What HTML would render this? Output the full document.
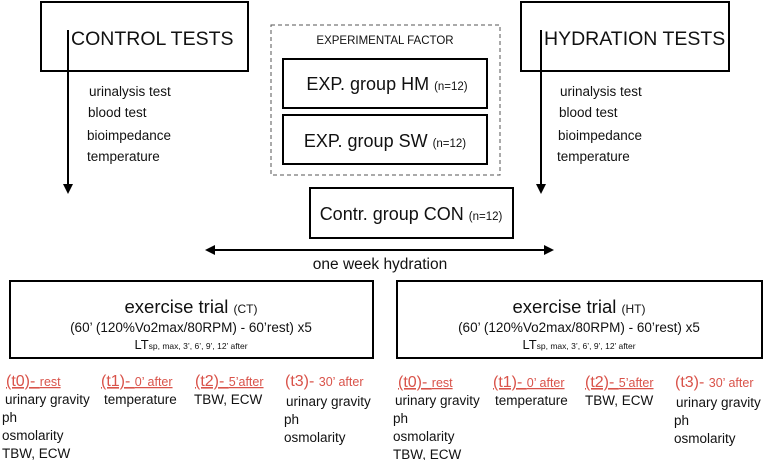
<!DOCTYPE html>
<html><head><meta charset="utf-8"><style>
body{margin:0;background:#fff;}
svg{display:block;font-family:"Liberation Sans",Arial,sans-serif;}
</style></head><body>
<svg width="766" height="460" viewBox="0 0 766 460" xmlns="http://www.w3.org/2000/svg">
<defs><marker id="ah" markerWidth="10" markerHeight="10" refX="8" refY="5" orient="auto" markerUnits="userSpaceOnUse"><path d="M0,0 L10,5 L0,10 z" fill="#000"/></marker></defs>

<g>
<rect x="41" y="2" width="207" height="69" fill="none" stroke="#000" stroke-width="2"/>
<text x="71" y="45" font-size="19.5" fill="#111">CONTROL TESTS</text>
</g>
<line x1="68" y1="30" x2="68" y2="192" stroke="#000" stroke-width="2" marker-end="url(#ah)"/>
<g font-size="13.5" fill="#111">
<text x="89" y="96">urinalysis test</text><text x="88" y="117">blood test</text><text x="87" y="140">bioimpedance</text><text x="87" y="161">temperature</text>
</g>

<g>
<rect x="521" y="2" width="208" height="69" fill="none" stroke="#000" stroke-width="2"/>
<text x="544" y="45" font-size="19.5" fill="#111">HYDRATION TESTS</text>
</g>
<line x1="541" y1="30" x2="541" y2="192" stroke="#000" stroke-width="2" marker-end="url(#ah)"/>
<g font-size="13.5" fill="#111">
<text x="560" y="96">urinalysis test</text><text x="559" y="117">blood test</text><text x="558" y="140">bioimpedance</text><text x="557" y="161">temperature</text>
</g>

<g>
<rect x="271" y="25" width="229" height="150" fill="none" stroke="#555" stroke-width="1" stroke-dasharray="4,3"/>
<text x="385" y="44" font-size="11.5" text-anchor="middle" fill="#111">EXPERIMENTAL FACTOR</text>
</g>
<g>
<rect x="283" y="59" width="204" height="49" fill="none" stroke="#000" stroke-width="2"/>
<text x="387" y="90" text-anchor="middle" fill="#111"><tspan font-size="18">EXP. group HM </tspan><tspan font-size="11.5">(n=12)</tspan></text>
</g>
<g>
<rect x="283" y="115" width="204" height="49" fill="none" stroke="#000" stroke-width="2"/>
<text x="385" y="147" text-anchor="middle" fill="#111"><tspan font-size="18">EXP. group SW </tspan><tspan font-size="11.5">(n=12)</tspan></text>
</g>
<g>
<rect x="310" y="188" width="203" height="50" fill="none" stroke="#000" stroke-width="2"/>
<text x="411" y="220" text-anchor="middle" fill="#111"><tspan font-size="18">Contr. group CON </tspan><tspan font-size="11.5">(n=12)</tspan></text>
</g>

<line x1="210" y1="250" x2="552" y2="250" stroke="#000" stroke-width="2" marker-end="url(#ah)"/>
<path d="M205,250 L215,245 L215,255 z" fill="#000"/>
<text x="380" y="269" font-size="15.5" text-anchor="middle" fill="#111">one week hydration</text>

<g fill="#111">
<rect x="10" y="281" width="363" height="77" fill="none" stroke="#000" stroke-width="2"/>
<text x="191" y="313" text-anchor="middle"><tspan font-size="18.5">exercise trial </tspan><tspan font-size="12">(CT)</tspan></text>
<text x="191" y="332" text-anchor="middle" font-size="13.5">(60’ (120%Vo2max/80RPM) - 60’rest) x5</text>
<text x="191" y="349" text-anchor="middle"><tspan font-size="13">LT</tspan><tspan font-size="8.5">sp, max, 3’, 6’, 9’, 12’ after</tspan></text>
</g>
<g fill="#111">
<rect x="397" y="281" width="365" height="77" fill="none" stroke="#000" stroke-width="2"/>
<text x="579" y="313" text-anchor="middle"><tspan font-size="18.5">exercise trial </tspan><tspan font-size="12">(HT)</tspan></text>
<text x="579" y="332" text-anchor="middle" font-size="13.5">(60’ (120%Vo2max/80RPM) - 60’rest) x5</text>
<text x="579" y="349" text-anchor="middle"><tspan font-size="13">LT</tspan><tspan font-size="8.5">sp, max, 3’, 6’, 9’, 12’ after</tspan></text>
</g>

<g>
<g fill="#d9534a" text-decoration="underline">
<text x="6" y="386"><tspan font-size="16">(t0)- </tspan><tspan font-size="12.5">rest</tspan></text>
<text x="101" y="386"><tspan font-size="16">(t1)- </tspan><tspan font-size="12.5">0’ after</tspan></text>
<text x="195" y="386"><tspan font-size="16">(t2)- </tspan><tspan font-size="12.5">5’after</tspan></text>
</g>
<text x="285" y="386" fill="#d9534a"><tspan font-size="16">(t3)- </tspan><tspan font-size="12.5">30’ after</tspan></text>
<g font-size="13.5" fill="#111">
<text x="5" y="404">urinary gravity</text><text x="2" y="422">ph</text><text x="2" y="440">osmolarity</text><text x="2" y="458">TBW, ECW</text>
<text x="104" y="404">temperature</text>
<text x="194" y="404">TBW, ECW</text>
<text x="286" y="406">urinary gravity</text><text x="284" y="424">ph</text><text x="284" y="442">osmolarity</text>
</g>
</g>

<g>
<g fill="#d9534a" text-decoration="underline">
<text x="398" y="387"><tspan font-size="16">(t0)- </tspan><tspan font-size="12.5">rest</tspan></text>
<text x="493" y="387"><tspan font-size="16">(t1)- </tspan><tspan font-size="12.5">0’ after</tspan></text>
<text x="585" y="387"><tspan font-size="16">(t2)- </tspan><tspan font-size="12.5">5’after</tspan></text>
</g>
<text x="675" y="387" fill="#d9534a"><tspan font-size="16">(t3)- </tspan><tspan font-size="12.5">30’ after</tspan></text>
<g font-size="13.5" fill="#111">
<text x="395" y="405">urinary gravity</text><text x="393" y="423">ph</text><text x="393" y="441">osmolarity</text><text x="393" y="459">TBW, ECW</text>
<text x="495" y="405">temperature</text>
<text x="585" y="405">TBW, ECW</text>
<text x="676" y="407">urinary gravity</text><text x="674" y="425">ph</text><text x="674" y="443">osmolarity</text>
</g>
</g>
</svg>
</body></html>
